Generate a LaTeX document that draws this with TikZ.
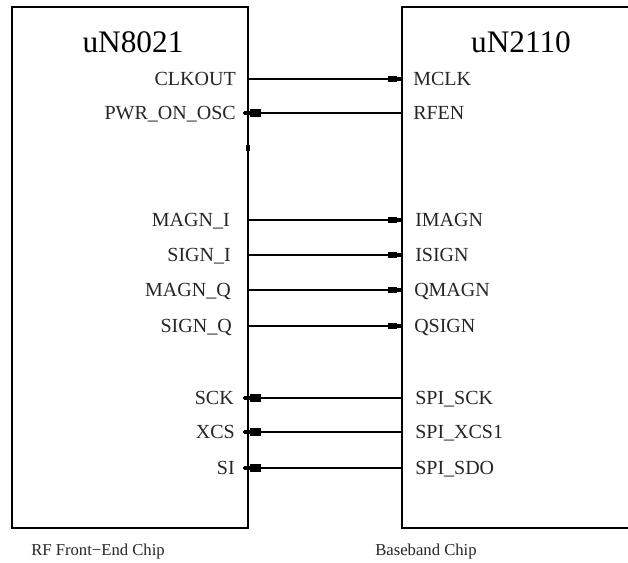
\documentclass[tikz,border=0pt]{standalone}
\usepackage{fontspec}
\setmainfont{Liberation Serif}
\usetikzlibrary{fit,decorations.markings}
\tikzset{
  chip/.style={draw, line width=1.4pt, inner sep=0pt},
  title/.style={font=\fontsize{23.5}{24}\selectfont, inner sep=0pt, anchor=base},
  pinL/.style={font=\fontsize{15}{15}\selectfont, text=black!85, inner sep=0pt, anchor=base east},
  pinR/.style={font=\fontsize{15}{15}\selectfont, text=black!85, inner sep=0pt, anchor=base west},
  caption/.style={font=\fontsize{12.5}{13}\selectfont, text=black!85, inner sep=0pt, anchor=base},
  sigR/.style={line width=1.1pt, postaction=decorate,
    decoration={markings, mark=at position 1 with {
      \fill (-11.25pt,-2.6pt) rectangle (-4.5pt,2.6pt);
      \fill (-4.6pt,-1.5pt) rectangle (-0.75pt,1.5pt);}}},
  sigL/.style={line width=1.1pt, postaction=decorate,
    decoration={markings, mark=at position 1 with {
      \fill (-13.5pt,-2.8pt) rectangle (-5.25pt,2.8pt);
      \fill (-5.35pt,-1.5pt) rectangle (-0.5pt,1.5pt);}}},
}
\begin{document}
\begin{tikzpicture}[x=0.75pt,y=-0.75pt]
\clip (0,0) rectangle (628,563);
\fill[white] (0,0) rectangle (628,563);
% chips
\node (rfbox) [chip, fit={(12,7) (248,528)}] {};
\node (bbbox) [chip, fit={(402,7) (640,528)}] {};
\node (rftitle) [title] at (133,53) {uN8021};
\node (bbtitle) [title] at (521,53) {uN2110};
\node (rfcap) [caption] at (98,555) {RF Front−End Chip};
\node (bbcap) [caption] at (426,555) {Baseband Chip};
\fill (246.3,145) rectangle (249.7,151);
% left pin labels
\node (lclk)  [pinL] at (236,85.6)  {CLKOUT};
\node (lpwr)  [pinL] at (236,119.6) {PWR\_ON\_OSC};
\node (lmi)   [pinL] at (230,226.6) {MAGN\_I};
\node (lsi)   [pinL] at (231,261.6) {SIGN\_I};
\node (lmq)   [pinL] at (231,296.6) {MAGN\_Q};
\node (lsq)   [pinL] at (232,332.6) {SIGN\_Q};
\node (lsck)  [pinL] at (234,404.6) {SCK};
\node (lxcs)  [pinL] at (235,438.6) {XCS};
\node (lsdi)  [pinL] at (235,474.6) {SI};
% right pin labels
\node (rclk)  [pinR] at (413,85.6)  {MCLK};
\node (rpwr)  [pinR] at (413,119.6) {RFEN};
\node (rmi)   [pinR] at (415,226.6) {IMAGN};
\node (rsi)   [pinR] at (415,261.6) {ISIGN};
\node (rmq)   [pinR] at (414,296.6) {QMAGN};
\node (rsq)   [pinR] at (414,332.6) {QSIGN};
\node (rsck)  [pinR] at (415,404.6) {SPI\_SCK};
\node (rxcs)  [pinR] at (415,438.6) {SPI\_XCS1};
\node (rsdo)  [pinR] at (415,474.6) {SPI\_SDO};
% connector end points
\coordinate (a1) at (248,79);  \coordinate (b1) at (403,79);
\coordinate (a2) at (243,113); \coordinate (b2) at (402,113);
\coordinate (a3) at (248,220); \coordinate (b3) at (403,220);
\coordinate (a4) at (248,255); \coordinate (b4) at (403,255);
\coordinate (a5) at (248,290); \coordinate (b5) at (403,290);
\coordinate (a6) at (248,326); \coordinate (b6) at (403,326);
\coordinate (a7) at (243,398); \coordinate (b7) at (402,398);
\coordinate (a8) at (243,432); \coordinate (b8) at (402,432);
\coordinate (a9) at (243,468); \coordinate (b9) at (402,468);
% connectors
\draw[sigR] (a1) -- (b1);
\draw[sigL] (b2) -- (a2);
\draw[sigR] (a3) -- (b3);
\draw[sigR] (a4) -- (b4);
\draw[sigR] (a5) -- (b5);
\draw[sigR] (a6) -- (b6);
\draw[sigL] (b7) -- (a7);
\draw[sigL] (b8) -- (a8);
\draw[sigL] (b9) -- (a9);
\end{tikzpicture}
\end{document}
